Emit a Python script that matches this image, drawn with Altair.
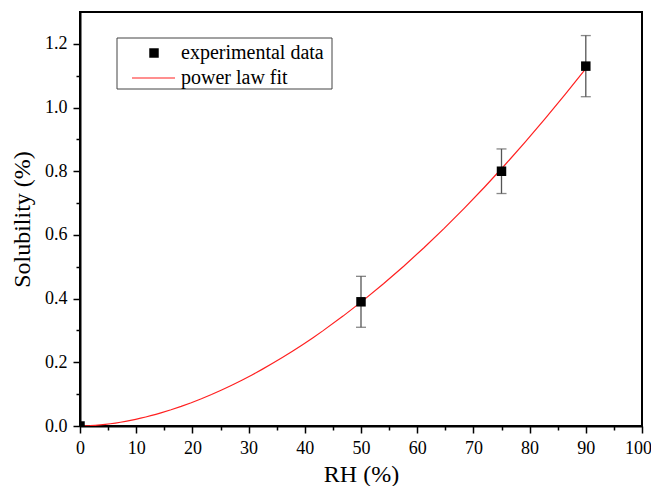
import altair as alt
import pandas as pd

# ---- data ----
rh = [0, 50, 75, 90]
solubility = [0.0, 0.39, 0.80, 1.13]
error = [0.0, 0.08, 0.07, 0.096]
legend_labels = ["experimental data", "power law fit"]
x_ticks = list(range(0, 101, 5))
y_ticks = [round(i * 0.1, 1) for i in range(0, 13)]

df = pd.DataFrame({"RH": rh, "Solubility": solubility, "err": error})
df["low"] = df["Solubility"] - df["err"]
df["high"] = df["Solubility"] + df["err"]

FONT = "Liberation Serif"
W, H = 562, 414

xscale = alt.Scale(domain=[0, 100], nice=False)
yscale = alt.Scale(domain=[0, 1.3], nice=False)

xaxis = alt.Axis(
    title="RH (%)", values=x_ticks,
    labelExpr="datum.value % 10 === 0 ? datum.label : ''",
    tickSize={"condition": {"test": "datum.value % 10 === 0", "value": 7}, "value": 4},
    labelOffset={"condition": {"test": "datum.value === 100", "value": -4}, "value": 0},
    grid=False, labelFontSize=18, titleFontSize=24, labelFont=FONT, titleFont=FONT,
    titleFontWeight="normal", labelColor="black", titleColor="black",
    domainColor="black", domainWidth=2, tickColor="black", tickWidth=1.5,
    labelPadding=6, titlePadding=5, labelFlush=False, labelOverlap=False,
)
yaxis = alt.Axis(
    title="Solubility (%)", values=y_ticks, format=".1f",
    labelExpr="round(datum.value * 10) % 2 === 0 ? datum.label : ''",
    tickSize={"condition": {"test": "round(datum.value * 10) % 2 === 0", "value": 7}, "value": 4},
    grid=False, labelFontSize=18, titleFontSize=24, labelFont=FONT, titleFont=FONT,
    titleFontWeight="normal", labelColor="black", titleColor="black",
    domainColor="black", domainWidth=2, tickColor="black", tickWidth=1.5,
    labelPadding=6, titlePadding=10, labelFlush=False, labelOverlap=False,
)

X = alt.X("RH:Q", scale=xscale, axis=xaxis)
Y = alt.Y("Solubility:Q", scale=yscale, axis=yaxis)

base = alt.Chart(df)

fit = base.transform_filter("datum.RH > 0").transform_regression(
    "RH", "Solubility", method="pow", extent=[0, 90]
).mark_line(color="#ff2020", strokeWidth=1.2, clip=True).encode(x=X, y=Y)

bars = base.transform_filter("datum.err > 0").mark_rule(color="#555555", strokeWidth=1.3).encode(
    x=X, y=alt.Y("low:Q", scale=yscale, axis=yaxis), y2="high:Q"
)
cap_lo = base.transform_filter("datum.err > 0").mark_tick(
    orient="horizontal", size=10, thickness=1.3, color="#555555"
).encode(x=X, y=alt.Y("low:Q", scale=yscale, axis=yaxis))
cap_hi = base.transform_filter("datum.err > 0").mark_tick(
    orient="horizontal", size=10, thickness=1.3, color="#555555"
).encode(x=X, y=alt.Y("high:Q", scale=yscale, axis=yaxis))

points = base.mark_square(size=90, color="black", opacity=1, clip=True).encode(x=X, y=Y)

# ---- legend ----
leg = alt.Chart(pd.DataFrame({"label": legend_labels}))
leg_box = leg.transform_filter(alt.datum.label == legend_labels[0]).mark_rect(
    fill="white", stroke="#444444", strokeWidth=1
).encode(x=alt.value(37), x2=alt.value(252), y=alt.value(26), y2=alt.value(77))
leg_sq = leg.transform_filter(alt.datum.label == legend_labels[0]).mark_square(
    size=90, color="black", opacity=1
).encode(x=alt.value(74), y=alt.value(41))
leg_line = leg.transform_filter(alt.datum.label == legend_labels[1]).mark_rule(
    color="#ff2020", strokeWidth=1.2
).encode(x=alt.value(52), x2=alt.value(95), y=alt.value(66))
leg_txt1 = leg.transform_filter(alt.datum.label == legend_labels[0]).mark_text(
    align="left", baseline="middle", font=FONT, fontSize=20, color="black"
).encode(x=alt.value(101), y=alt.value(41), text="label:N")
leg_txt2 = leg.transform_filter(alt.datum.label == legend_labels[1]).mark_text(
    align="left", baseline="middle", font=FONT, fontSize=20, color="black"
).encode(x=alt.value(101), y=alt.value(66), text="label:N")

chart = alt.layer(
    fit, bars, cap_lo, cap_hi, points, leg_box, leg_sq, leg_line, leg_txt1, leg_txt2
).properties(
    width=W, height=H,
    autosize=alt.AutoSizeParams(type="none"),
    padding={"left": 72, "top": 4, "right": 9, "bottom": 60},
    background="white",
).configure_view(stroke="black", strokeWidth=2)

chart.save("out.html", embed_options={"renderer": "svg", "actions": False})
